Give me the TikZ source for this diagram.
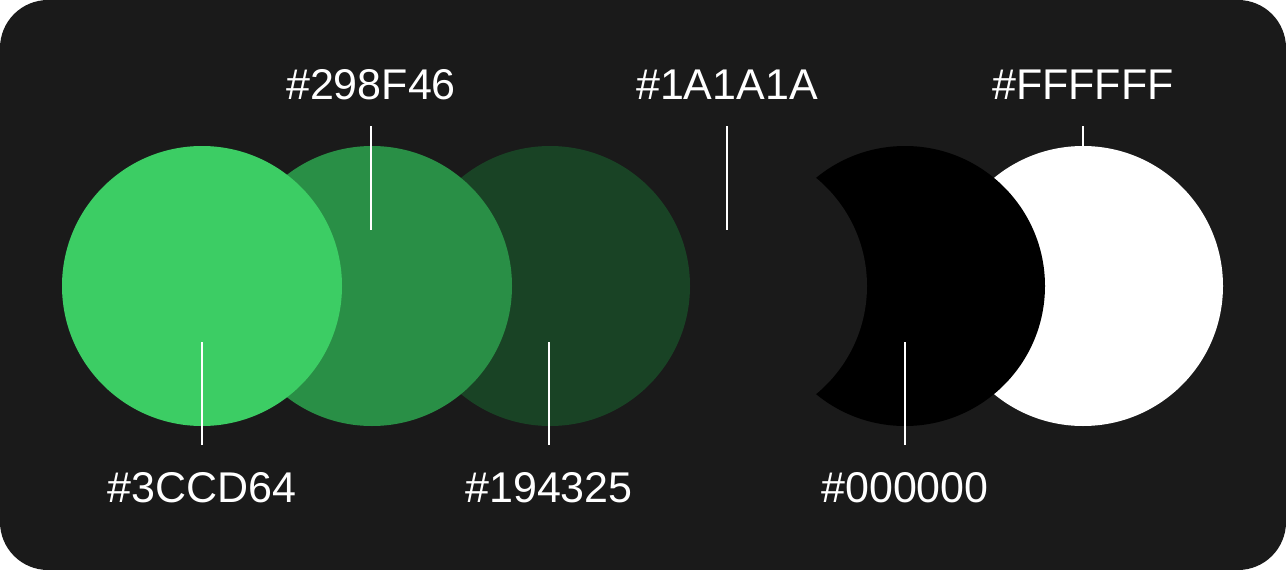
\documentclass[tikz,border=0pt]{standalone}
\usepackage{fontspec}
\setmainfont{Liberation Sans}
\definecolor{bgdark}{HTML}{1A1A1A}
\definecolor{greenlight}{HTML}{3CCD64}
\definecolor{greenmid}{HTML}{298F46}
\definecolor{greendark}{HTML}{194325}
\begin{document}
\begin{tikzpicture}[x=1pt,y=-1pt,
  swatch/.style={circle,minimum size=280pt,inner sep=0pt,draw=none},
  hexlabel/.style={text=white,font=\fontsize{43}{48}\selectfont,inner sep=0pt,anchor=base},
  leader/.style={white,line width=2pt}]
  \useasboundingbox (0,0) rectangle (1286,570);
  \fill[white] (0,0) rectangle (1286,570);
  \fill[bgdark,rounded corners=48pt] (0,0) rectangle (1286,570);
  % swatches, back to front
  \node[swatch,fill=white] (sFFFFFF) at (1083,286) {};
  \node[swatch,fill=black] (s000000) at (905,286) {};
  \node[swatch,fill=bgdark] (s1A1A1A) at (727,286) {};
  \node[swatch,fill=greendark] (s194325) at (550,286) {};
  \node[swatch,fill=greenmid] (s298F46) at (372,286) {};
  \node[swatch,fill=greenlight] (s3CCD64) at (202,286) {};
  % labels above
  \foreach \hex/\xx in {298F46/371,1A1A1A/727,FFFFFF/1083}{%
    \node[hexlabel] (l\hex) at (\xx,99) {\#\hex};
    \coordinate (a\hex) at (\xx,126);
  }
  % labels below
  \foreach \hex/\xx in {3CCD64/202,194325/549,000000/905}{%
    \node[hexlabel] (l\hex) at (\xx,502) {\#\hex};
    \coordinate (a\hex) at (\xx,445);
  }
  \coordinate (b298F46) at (371,230);
  \coordinate (b1A1A1A) at (727,230);
  \coordinate (bFFFFFF) at (1083,146);
  \coordinate (b3CCD64) at (202,342);
  \coordinate (b194325) at (549,342);
  \coordinate (b000000) at (905,342);
  \foreach \hex in {298F46,1A1A1A,FFFFFF,3CCD64,194325,000000}{%
    \draw[leader] (a\hex) -- (b\hex);
  }
\end{tikzpicture}
\end{document}
